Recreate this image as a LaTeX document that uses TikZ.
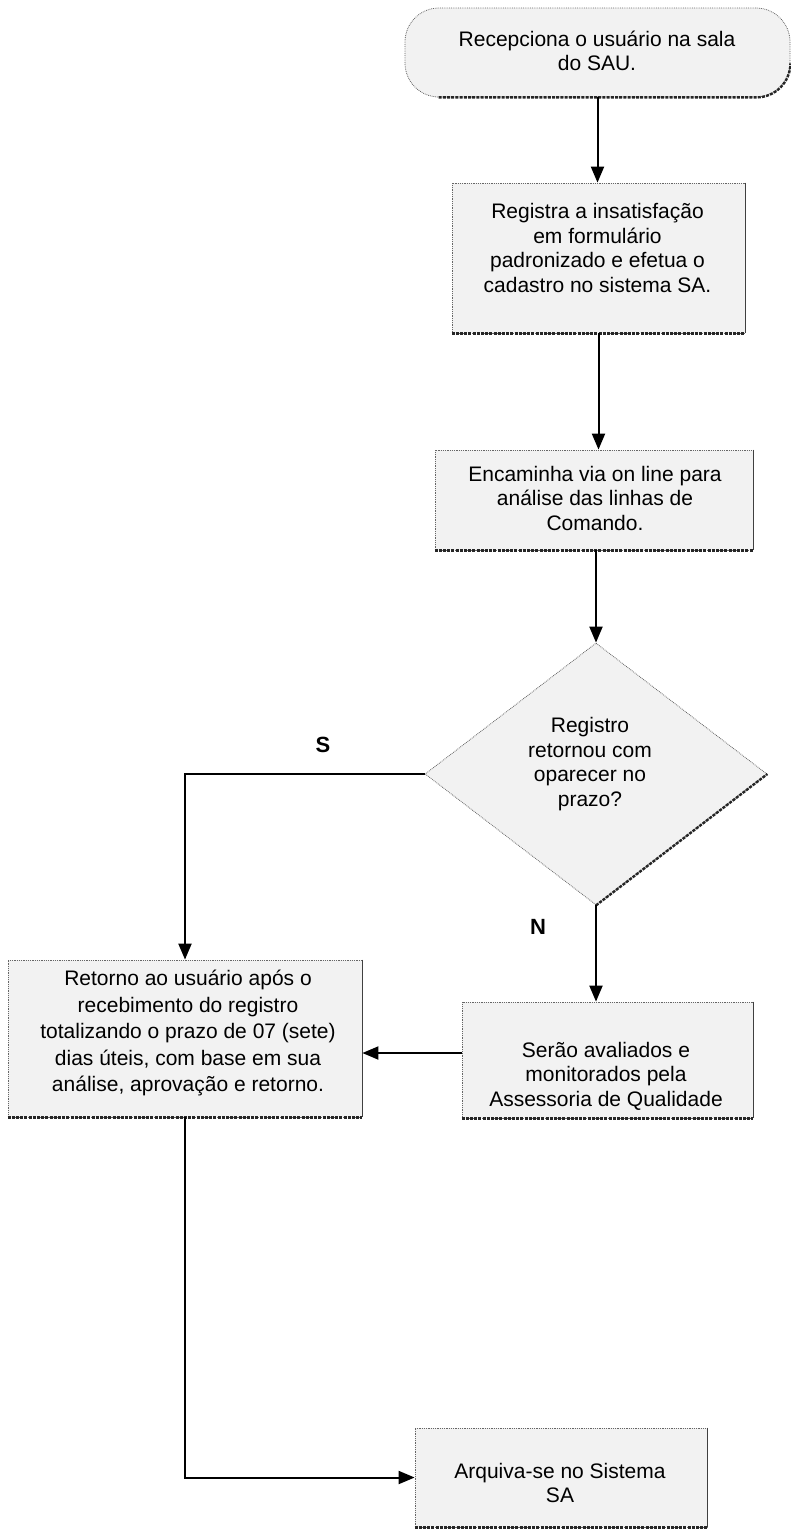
\documentclass[tikz,border=0pt]{standalone}
\usepackage{fontspec}
\setmainfont{Liberation Sans}
\usetikzlibrary{shapes.geometric,arrows.meta}
\begin{document}
\begin{tikzpicture}[x=1pt,y=-1pt,
  box/.style={draw=black!60, densely dotted, line width=0.8pt, fill=black!5, inner sep=0pt, rectangle},
  txt/.style={align=center, font=\fontsize{21}{24.5}\selectfont, inner sep=0pt},
  lbl/.style={font=\fontsize{22}{26}\selectfont\bfseries, inner sep=0pt},
  arr/.style={line width=2pt, -{Triangle[length=16pt,width=13pt]}},
  shadowedge/.style={line width=2.4pt, dash pattern=on 3pt off 1.2pt, black!85},
  rightedge/.style={line width=1pt, black!75}]
\useasboundingbox (0,0) rectangle (791,1529);

% boxes
\node[box, rounded corners=34pt, minimum width=385pt, minimum height=89pt] (start) at (597.5,52.5) {};
\node[txt] (startt) at (597,51) {Recepciona o usuário na sala\\do SAU.};

\node[box, minimum width=293pt, minimum height=150pt] (reg) at (598.5,258) {};
\node[txt] (regt) at (597.5,248) {Registra a insatisfação\\em formulário\\padronizado e efetua o\\cadastro no sistema SA.};

\node[box, minimum width=318pt, minimum height=100pt] (enc) at (594,500) {};
\node[txt] (enct) at (595,498) {Encaminha via on line para\\análise das linhas de\\Comando.};

\node[box, shape=diamond, minimum width=342pt, minimum height=262pt] (dec) at (596,774) {};
\node[txt] (dect) at (590,764) {Registro\\retornou com\\oparecer no\\prazo?};

\node[box, minimum width=354pt, minimum height=157pt] (ret) at (185,1038.5) {};
\node[txt, font=\fontsize{21}{26.5}\selectfont] (rett) at (188,1033) {Retorno ao usuário após o\\recebimento do registro\\totalizando o prazo de 07 (sete)\\dias úteis, com base em sua\\análise, aprovação e retorno.};

\node[box, minimum width=291pt, minimum height=116pt] (ava) at (607.5,1060) {};
\node[txt] (avat) at (606,1076) {Serão avaliados e\\monitorados pela\\Assessoria de Qualidade};

\node[box, minimum width=292pt, minimum height=99pt] (arq) at (561,1477.5) {};
\node[txt] (arqt) at (560,1483) {Arquiva-se no Sistema\\SA};

% shadow-like edges
\foreach \n in {reg,enc,ret,ava,arq} {
  \draw[rightedge] (\n.north east) -- (\n.south east);
  \draw[shadowedge] (\n.south west) -- (\n.south east);
}
\draw[shadowedge] (dec.south) -- (dec.east);
\draw[shadowedge] ([xshift=34pt]start.south west) -- ([xshift=-34pt]start.south east) arc[start angle=-90,end angle=0,radius=34pt];

% connectors
\draw[arr] (start.south) -- (start.south |- reg.north);
\draw[arr] (reg.south) -- (reg.south |- enc.north);
\draw[arr] (dec.north |- enc.south) -- (dec.north);
\draw[arr] (dec.west) -| (ret.north);
\node[lbl] (s) at (323,745) {S};
\draw[arr] (dec.south) -- (dec.south |- ava.north);
\node[lbl] (n) at (538,927) {N};
\draw[arr] ([yshift=7pt]ava.west) -- ([yshift=7pt]ava.west -| ret.east);
\draw[arr] (ret.south) |- (arq.west);
\end{tikzpicture}
\end{document}
